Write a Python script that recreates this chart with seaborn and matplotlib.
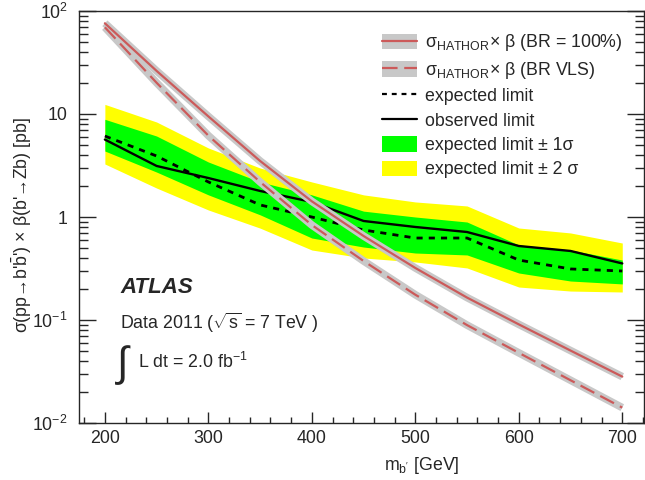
import numpy as np
import pandas as pd
import matplotlib
matplotlib.use("Agg")
import matplotlib.pyplot as plt
import seaborn as sns
from matplotlib.patches import Patch
from matplotlib.lines import Line2D
from matplotlib.ticker import FixedLocator, FixedFormatter, LogLocator, MultipleLocator, NullFormatter

# b' mass points [GeV]
mass = [200, 250, 300, 350, 400, 450, 500, 550, 600, 650, 700]

# 95% CL limits on sigma x beta [pb]
obs_limit = [5.65, 3.13, 2.39, 1.79, 1.40, 0.915, 0.80, 0.715, 0.523, 0.468, 0.354]
exp_limit = [6.11, 3.91, 2.19, 1.31, 1.00, 0.748, 0.625, 0.625, 0.382, 0.313, 0.299]
exp_1s_up = [8.88, 6.11, 3.42, 2.19, 1.64, 1.14, 1.00, 0.894, 0.535, 0.478, 0.382]
exp_1s_dn = [4.37, 2.73, 1.64, 1.05, 0.625, 0.511, 0.447, 0.428, 0.286, 0.239, 0.224]
exp_2s_up = [12.4, 8.36, 4.68, 2.99, 2.19, 1.64, 1.40, 1.28, 0.782, 0.70, 0.559]
exp_2s_dn = [3.27, 1.91, 1.17, 0.78, 0.478, 0.40, 0.366, 0.32, 0.209, 0.191, 0.187]

# HATHOR theory cross section times branching ratio [pb]
xsec_br100 = [76.0, 26.2, 9.48, 3.50, 1.42, 0.654, 0.320, 0.165, 0.0907, 0.0505, 0.0282]
xsec_vls = [69.5, 20.1, 6.17, 2.19, 0.836, 0.374, 0.176, 0.0892, 0.048, 0.026, 0.0141]

legend_labels = [
    r"σ$_{HATHOR}$× β (BR = 100%)",
    r"σ$_{HATHOR}$× β (BR VLS)",
    "expected limit",
    "observed limit",
    "expected limit ± 1σ",
    "expected limit ± 2 σ",
]

x_ticks = [200, 300, 400, 500, 600, 700]
y_ticks = [1e-2, 1e-1, 1, 10, 100]
y_tick_labels = [r"$10^{-2}$", r"$10^{-1}$", "1", "10", r"$10^{2}$"]

df = pd.DataFrame({"mass": mass, "obs": obs_limit, "exp": exp_limit,
                   "br100": xsec_br100, "vls": xsec_vls})

sns.set_theme(style="ticks")
plt.rcParams["font.family"] = ["Liberation Sans", "DejaVu Sans"]
plt.rcParams["mathtext.fontset"] = "custom"
plt.rcParams["mathtext.rm"] = "Liberation Sans"
plt.rcParams["mathtext.it"] = "Liberation Sans:italic"
plt.rcParams["mathtext.bf"] = "Liberation Sans:bold"
plt.rcParams["mathtext.default"] = "regular"
plt.rcParams["axes.linewidth"] = 1.0

RED = "#cc5a5a"
GREY = "#c8c8c8"
GREEN = "#00ff00"
YELLOW = "#ffff00"
FS = 12.8

fig = plt.figure(figsize=(6.45, 4.8), dpi=100)
ax = fig.add_axes([79 / 645, 57 / 480, 565 / 645, 412 / 480])

# expected limit bands
ax.fill_between(mass, exp_2s_dn, exp_2s_up, color=YELLOW, linewidth=0, zorder=1)
ax.fill_between(mass, exp_1s_dn, exp_1s_up, color=GREEN, linewidth=0, zorder=2)

# limits
sns.lineplot(data=df, x="mass", y="exp", ax=ax, color="black", linewidth=2.0,
             linestyle=(0, (2.2, 2.2)), zorder=3)
sns.lineplot(data=df, x="mass", y="obs", ax=ax, color="black", linewidth=1.7, zorder=3)

# theory curves: grey band with red line on top
for col, ls in [("br100", "-"), ("vls", (0, (7, 3)))]:
    sns.lineplot(data=df, x="mass", y=col, ax=ax, color=GREY, linewidth=5.5,
                 solid_capstyle="butt", zorder=4)
    sns.lineplot(data=df, x="mass", y=col, ax=ax, color=RED, linewidth=1.6,
                 linestyle=ls, zorder=5)

ax.set_yscale("log")
ax.set_xlim(175, 721)
ax.set_ylim(1e-2, 1e2)

ax.xaxis.set_major_locator(FixedLocator(x_ticks))
ax.xaxis.set_minor_locator(MultipleLocator(20))
ax.yaxis.set_major_locator(FixedLocator(y_ticks))
ax.yaxis.set_major_formatter(FixedFormatter(y_tick_labels))
ax.yaxis.set_minor_locator(LogLocator(base=10, subs=np.arange(2, 10)))
ax.yaxis.set_minor_formatter(NullFormatter())

ax.tick_params(axis="both", which="both", direction="in", right=True, top=False,
               labelsize=FS, width=1.0)
ax.tick_params(axis="x", which="major", length=8, pad=5)
ax.tick_params(axis="x", which="minor", length=4)
ax.tick_params(axis="y", which="major", length=12, pad=8)
ax.tick_params(axis="y", which="minor", length=6.5)

ax.set_xlabel(r"m$_{b'}$ [GeV]", fontsize=FS, ha="right", va="center")
ax.xaxis.set_label_coords(0.674, -0.102)
ax.set_ylabel(r"σ(pp→b'$\bar{b}$') × β(b'→Zb) [pb]", fontsize=FS, va="center")
ax.yaxis.set_label_coords(-0.101, 0.48)

# legend
h_br100 = (Patch(facecolor=GREY, edgecolor="none"), Line2D([], [], color=RED, lw=1.6))
h_vls = (Patch(facecolor=GREY, edgecolor="none"),
         Line2D([], [], color=RED, lw=1.6, linestyle=(0, (7, 3))))
h_exp = Line2D([], [], color="black", lw=1.6, linestyle=(0, (2.2, 2.2)))
h_obs = Line2D([], [], color="black", lw=1.6)
h_1s = Patch(facecolor=GREEN, edgecolor="none")
h_2s = Patch(facecolor=YELLOW, edgecolor="none")
ax.legend([h_br100, h_vls, h_exp, h_obs, h_1s, h_2s], legend_labels,
          loc="upper left", bbox_to_anchor=(0.536, 0.948), frameon=False,
          fontsize=FS, handlelength=2.0, handleheight=0.95, handletextpad=0.4,
          labelspacing=0.37, borderpad=0, borderaxespad=0)

# ATLAS label and luminosity
ax.text(0.0726, 0.328, "ATLAS", transform=ax.transAxes, fontsize=16,
        fontweight="bold", fontstyle="italic", va="center", ha="left")
ax.text(0.0726, 0.243, r"Data 2011 ($\sqrt{s}$ = 7 TeV )", transform=ax.transAxes,
        fontsize=FS, va="center", ha="left")
ax.text(0.068, 0.141, "∫", transform=ax.transAxes, fontsize=30, va="center", ha="left")
ax.text(0.104, 0.148, r"L dt = 2.0 fb$^{-1}$", transform=ax.transAxes,
        fontsize=FS, va="center", ha="left")

fig.savefig("out.png", dpi=100)
